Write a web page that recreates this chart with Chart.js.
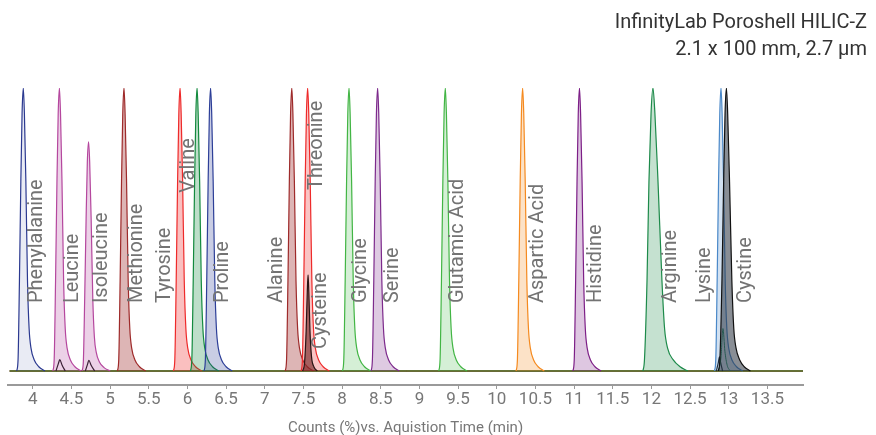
<!DOCTYPE html>
<html>
<head>
<meta charset="utf-8">
<script src="https://cdn.jsdelivr.net/npm/chart.js@4/dist/chart.umd.min.js"></script>
<style>
  html, body { margin: 0; padding: 0; background: #fff; }
  #wrap { width: 876px; height: 435px; }
</style>
</head>
<body>
<div id="wrap"><canvas id="chromChart" width="876" height="435"></canvas></div>
<script>
// Peak traces
// times (min) and counts (%) for each compound
const peakCounts  = [0,4,32,67,91,100,91,67,32,15,8,4,1.5,0];
const ileCounts   = [0,3.2,26,54,74,81,74,54,26,12,6.5,3.2,1.2,0];

const phenylalanine = [3.793,3.81,3.828,3.846,3.862,3.878,3.892,3.911,3.932,3.953,3.978,4.018,4.078,4.158];
const leucine       = [4.26,4.277,4.295,4.313,4.329,4.345,4.359,4.378,4.399,4.42,4.445,4.485,4.545,4.625];
const isoleucine    = [4.637,4.654,4.672,4.69,4.706,4.722,4.736,4.755,4.776,4.797,4.822,4.862,4.922,5.002];
const methionine    = [5.095,5.112,5.13,5.148,5.164,5.18,5.194,5.213,5.234,5.255,5.28,5.32,5.38,5.46];
const tyrosine      = [5.82,5.837,5.855,5.873,5.889,5.905,5.919,5.938,5.959,5.98,6.005,6.045,6.105,6.185];
const valine        = [6.04,6.057,6.075,6.093,6.109,6.125,6.139,6.158,6.179,6.2,6.225,6.265,6.325,6.405];
const proline       = [6.215,6.232,6.25,6.268,6.284,6.30,6.314,6.333,6.354,6.375,6.40,6.44,6.50,6.58];
const alanine       = [7.265,7.282,7.30,7.318,7.334,7.35,7.364,7.383,7.404,7.425,7.45,7.49,7.55,7.63];
const threonine     = [7.47,7.487,7.505,7.523,7.539,7.555,7.569,7.588,7.609,7.63,7.655,7.695,7.755,7.835];
const glycine       = [8.005,8.022,8.04,8.058,8.074,8.09,8.104,8.123,8.144,8.165,8.19,8.23,8.29,8.37];
const serine        = [8.375,8.392,8.41,8.428,8.444,8.46,8.474,8.493,8.514,8.535,8.56,8.60,8.66,8.74];
const glutamicAcid  = [9.25,9.267,9.285,9.303,9.319,9.335,9.349,9.368,9.389,9.41,9.435,9.475,9.535,9.615];
const asparticAcid  = [10.25,10.267,10.285,10.303,10.319,10.335,10.349,10.368,10.389,10.41,10.435,10.475,10.535,10.615];
const histidine     = [10.985,11.002,11.02,11.038,11.054,11.07,11.084,11.103,11.124,11.145,11.17,11.21,11.27,11.35];
const arginine      = [11.89,11.91,11.943,11.968,11.995,12.02,12.045,12.085,12.136,12.17,12.21,12.28,12.37,12.47];
const lysine        = [12.815,12.832,12.85,12.868,12.884,12.90,12.914,12.933,12.954,12.975,13.00,13.04,13.10,13.18];
const cystine       = [12.865,12.885,12.912,12.934,12.952,12.97,12.986,13.01,13.04,13.065,13.095,13.14,13.20,13.28];

const cysteineTime   = [7.49,7.515,7.535,7.55,7.56,7.57,7.585,7.605,7.635,7.68];
const cysteineCounts = [0,3,14,28,34,28,14,5,1.5,0];

// small side traces near the baseline
const minorGreenTime   = [12.87,12.90,12.925,12.95,12.98,13.02];
const minorGreenCounts = [0,5,15,7,2,0];
const minorBlackTime   = [[4.30,4.33,4.35,4.38,4.42],[4.68,4.71,4.725,4.755,4.80],[12.84,12.865,12.88,12.895,12.92]];
const minorBlackCounts = [[0,2.5,4,2,0],[0,2.5,3.8,2,0],[0,3,5,3,0]];
const baselineTime     = [3.70,13.96];

const names = ['Phenylalanine','Leucine','Isoleucine','Methionine','Tyrosine','Valine','Proline','Alanine',
  'Threonine','Cysteine','Glycine','Serine','Glutamic Acid','Aspartic Acid','Histidine','Arginine','Lysine','Cystine'];
const times = [phenylalanine, leucine, isoleucine, methionine, tyrosine, valine, proline, alanine,
  threonine, cysteineTime, glycine, serine, glutamicAcid, asparticAcid, histidine, arginine, lysine, cystine];
const counts = [peakCounts, peakCounts, ileCounts, peakCounts, peakCounts, peakCounts, peakCounts, peakCounts,
  peakCounts, cysteineCounts, peakCounts, peakCounts, peakCounts, peakCounts, peakCounts, peakCounts, peakCounts, peakCounts];

// line / fill colours, same order as names
const lineColors = ['#2b3990','#b5479e','#b5479e','#9e2a2a','#ee2a2a','#138a3e','#2d3f98','#9e2a2a',
  '#ee2a2a','#2a1414','#42b544','#7d2a8c','#42b544','#f58a1f','#7d1f87','#1d8a4a','#4a88c8','#111111'];
const fillColors = ['rgba(43,57,144,0.10)','rgba(181,71,158,0.25)','rgba(181,71,158,0.25)','rgba(158,42,42,0.35)',
  'rgba(238,42,42,0.30)','rgba(19,138,62,0.28)','rgba(45,63,152,0.26)','rgba(158,42,42,0.35)',
  'rgba(238,42,42,0.28)','rgba(120,40,40,0.65)','rgba(66,181,68,0.22)','rgba(125,42,140,0.25)',
  'rgba(66,181,68,0.22)','rgba(245,138,31,0.25)','rgba(125,31,135,0.25)','rgba(29,138,74,0.26)',
  'rgba(74,136,200,0.25)','rgba(40,50,62,0.55)'];

// where each vertical label sits: [time, counts at text start]
const labelAnchors = [[4.057,24],[4.525,24],[4.89,24],[5.35,24],[5.708,24],[6.026,63],[6.46,24],[7.161,24],
  [7.678,64],[7.73,7.8],[8.25,24],[8.654,24],[9.497,24],[10.538,24],[11.283,24],[12.258,24],[12.697,24],[13.218,24]];

const toXY = (xs, ys) => xs.map((t, i) => ({ x: t, y: ys[i] }));

const datasets = [];
// Cystine on top, then the others
for (let i = names.length - 1; i >= 0; i--) {
  datasets.push({
    data: toXY(times[i], counts[i]),
    borderColor: lineColors[i],
    backgroundColor: fillColors[i],
    borderWidth: 1.2,
    fill: 'origin'
  });
}
datasets.push({ data: toXY(minorGreenTime, minorGreenCounts), borderColor: '#1d8a4a', borderWidth: 1, fill: false });
minorBlackTime.forEach((t, i) => {
  datasets.push({ data: toXY(t, minorBlackCounts[i]), borderColor: '#111', borderWidth: 1.2, fill: false });
});
datasets.push({ data: toXY(baselineTime, [0, 0]), borderColor: '#42b544', borderWidth: 1, fill: false });
datasets.push({ data: toXY(baselineTime, [0, 0]), borderColor: '#8a2a2a', borderWidth: 2, fill: false });

const peakLabels = {
  id: 'peakLabels',
  afterDatasetsDraw(chart) {
    const { ctx, scales: { x, y } } = chart;
    ctx.save();
    ctx.font = '20px Roboto, "Noto Sans", sans-serif';
    ctx.fillStyle = '#737373';
    ctx.textAlign = 'left';
    ctx.textBaseline = 'middle';
    names.forEach((name, i) => {
      const px = x.getPixelForValue(labelAnchors[i][0]);
      const py = y.getPixelForValue(labelAnchors[i][1]);
      ctx.save();
      ctx.translate(px, py);
      ctx.rotate(-Math.PI / 2);
      ctx.fillText(name, 0, 0);
      ctx.restore();
    });
    // column name, top right
    ctx.font = '20px Roboto, "Noto Sans", sans-serif';
    ctx.fillStyle = '#333';
    ctx.textAlign = 'right';
    ctx.fillText('InfinityLab Poroshell HILIC-Z', 867, 23);
    ctx.fillText('2.1 x 100 mm, 2.7 µm', 867, 50);
    ctx.restore();
  }
};

new Chart(document.getElementById('chromChart'), {
  type: 'line',
  data: { datasets },
  options: {
    responsive: false,
    animation: false,
    elements: {
      point: { radius: 0, hoverRadius: 0 },
      line: { tension: 0.4, cubicInterpolationMode: 'monotone' }
    },
    layout: { padding: { top: 88, left: 8, right: 73, bottom: 0 } },
    plugins: { legend: { display: false }, tooltip: { enabled: false } },
    scales: {
      x: {
        type: 'linear',
        min: 3.68,
        max: 13.96,
        afterFit: scale => { scale.height = 50; },
        border: { display: true, color: '#9a9a9a', width: 2 },
        grid: { display: true, drawOnChartArea: false, drawTicks: true, tickLength: 4, color: '#9a9a9a' },
        ticks: {
          stepSize: 0.5,
          includeBounds: false,
          maxRotation: 0,
          autoSkip: false,
          padding: 2.5,
          color: '#777',
          font: { family: 'Roboto, sans-serif', size: 17, lineHeight: 1 },
          callback: v => String(Number(v.toFixed(1)))
        },
        title: {
          display: true,
          text: 'Counts (%)vs. Aquistion Time (min)',
          color: '#777',
          padding: { top: 5, bottom: -1 },
          font: { family: 'Roboto, sans-serif', size: 15, lineHeight: 1 }
        }
      },
      y: { display: false, min: -4.95, max: 100 }
    }
  },
  plugins: [peakLabels]
});
</script>
</body>
</html>
